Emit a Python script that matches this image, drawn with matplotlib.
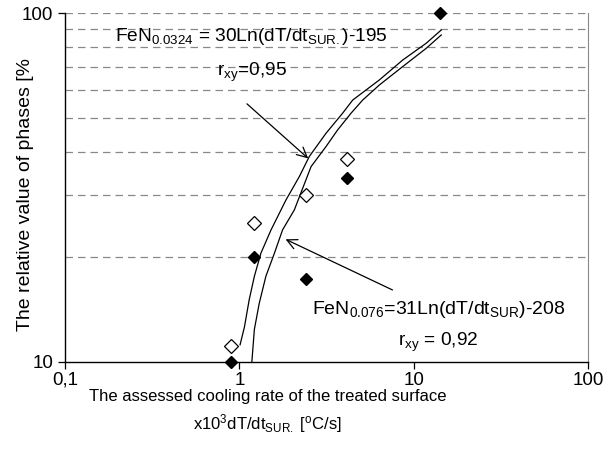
import matplotlib
matplotlib.use("Agg")
import matplotlib.pyplot as plt
from matplotlib.ticker import FixedLocator, NullLocator

plt.rcParams['font.family'] = ['Liberation Sans', 'DejaVu Sans']
plt.rcParams['mathtext.fontset'] = 'custom'
plt.rcParams['mathtext.rm'] = 'Liberation Sans'
plt.rcParams['mathtext.it'] = 'Liberation Sans:italic'
plt.rcParams['mathtext.bf'] = 'Liberation Sans:bold'

# measured points (x10^3 dT/dt, %)
filled_x = [0.90, 1.22, 2.41, 4.15, 14.1]
filled_y = [10.0, 20.0, 17.3, 33.6, 100.0]
open_x = [0.90, 1.22, 2.42, 4.15]
open_y = [11.1, 25.1, 30.1, 38.2]

# trend lines
fe0324_x = [1.01, 1.07, 1.14, 1.22, 1.33, 1.52, 1.85, 2.21, 2.52, 3.14,
            3.91, 4.47, 6.36, 8.65, 11.8, 14.4]
fe0324_y = [11.2, 12.6, 15.1, 17.6, 20.5, 23.9, 29.1, 34.0, 38.8, 45.2,
            51.6, 56.3, 64.3, 73.3, 81.9, 89.4]
fe076_x = [1.18, 1.22, 1.30, 1.42, 1.59, 1.77, 2.07, 2.58, 3.14, 3.66,
           4.37, 5.10, 6.36, 8.65, 11.8, 14.4]
fe076_y = [10.0, 12.4, 14.7, 17.6, 20.5, 23.9, 27.3, 36.3, 41.4, 46.2,
           51.6, 56.3, 62.2, 70.2, 79.2, 86.5]

grid_y = [20, 30, 40, 50, 60, 70, 80, 90, 100]

fig = plt.figure(figsize=(6.16, 4.53), dpi=100)
ax = fig.add_axes([0.1055, 0.2009, 0.849, 0.7704])
ax.set_xscale('log')
ax.set_yscale('log')
ax.set_xlim(0.1, 100)
ax.set_ylim(10, 100)

for g in grid_y:
    ax.axhline(g, color='#888888', lw=0.9, ls=(0, (6, 4)), zorder=1)

ax.plot(fe0324_x, fe0324_y, color='black', lw=0.9, zorder=2)
ax.plot(fe076_x, fe076_y, color='black', lw=0.9, zorder=2)

ax.plot(open_x, open_y, 'D', ms=7.5, mfc='white', mec='black', mew=0.9,
        ls='none', zorder=3, clip_on=False)
ax.plot(filled_x, filled_y, 'D', ms=6.5, color='black', ls='none',
        zorder=4, clip_on=False)

ax.xaxis.set_major_locator(FixedLocator([0.1, 1, 10, 100]))
ax.xaxis.set_minor_locator(NullLocator())
ax.yaxis.set_major_locator(FixedLocator([10, 100]))
ax.yaxis.set_minor_locator(NullLocator())
ax.set_xticklabels(['0,1', '1', '10', '100'])
ax.set_yticklabels(['10', '100'])
ax.tick_params(axis='both', labelsize=13.5, length=5, width=0.9, colors='black')
ax.tick_params(axis='x', pad=2)

for s in ['left', 'bottom']:
    ax.spines[s].set_color('black')
    ax.spines[s].set_linewidth(1.0)
ax.spines['right'].set_color('#888888')
ax.spines['top'].set_visible(False)

# equations and arrows
ax.text(0.356, 0.932, r'FeN$_{0.0324}$ = 30Ln(dT/dt$_{\mathrm{SUR.}}$)-195',
        transform=ax.transAxes, ha='center', va='center', fontsize=13.8)
ax.text(0.358, 0.83, r'r$_{\mathrm{xy}}$=0,95', transform=ax.transAxes,
        ha='center', va='center', fontsize=13.8)
ax.text(0.715, 0.149, r'FeN$_{0.076}$=31Ln(dT/dt$_{\mathrm{SUR}}$)-208',
        transform=ax.transAxes, ha='center', va='center', fontsize=14)
ax.text(0.713, 0.057, r'r$_{\mathrm{xy}}$ = 0,92', transform=ax.transAxes,
        ha='center', va='center', fontsize=13.8)

ax.annotate('', xy=(0.469, 0.578), xytext=(0.344, 0.745),
            xycoords='axes fraction',
            arrowprops=dict(arrowstyle='->', lw=0.9, color='black',
                            mutation_scale=18))
ax.annotate('', xy=(0.417, 0.355), xytext=(0.631, 0.203),
            xycoords='axes fraction',
            arrowprops=dict(arrowstyle='->', lw=0.9, color='black',
                            mutation_scale=18))

fig.text(0.434, 0.124, 'The assessed cooling rate of the treated surface',
         ha='center', va='center', fontsize=12)
fig.text(0.434, 0.066, r'x10$^{3}$dT/dt$_{\mathrm{SUR.}}$ [$^{\mathrm{o}}$C/s]',
         ha='center', va='center', fontsize=12)
fig.text(0.041, 0.57, 'The relative value of phases [%', rotation=90,
         ha='center', va='center', fontsize=14)

fig.savefig('out.png', dpi=100)
